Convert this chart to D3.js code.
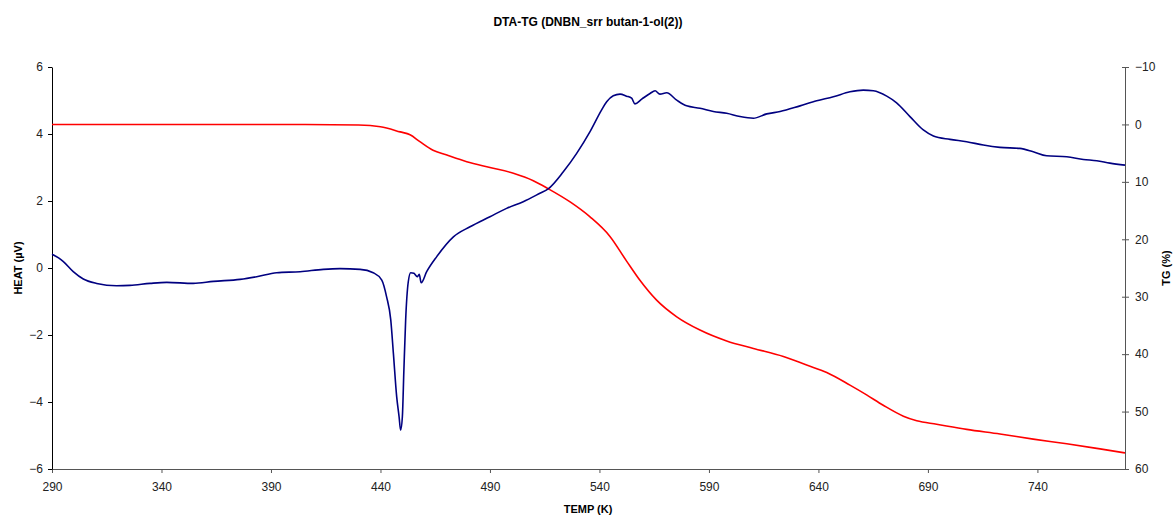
<!DOCTYPE html>
<html>
<head>
<meta charset="utf-8">
<script src="https://cdn.jsdelivr.net/npm/d3@7"></script>
<style>
  body { margin: 0; background: #fff; }
  text { font-family: Arial, "Liberation Sans", sans-serif; }
</style>
</head>
<body>
<div id="chart"></div>
<script>
// DTA curve (HEAT, µV) against temperature (K)
const heatTemp = [290, 293, 295.2, 299.7, 304.3, 310.4, 319.5, 325.6, 334.8, 342.4, 354.5, 363.7, 375.9, 383.5, 392.6, 403.3, 413.9, 421.5, 430.7, 436.7, 440.6, 442.8, 444.7, 445.9, 447.4, 448.5, 449.2, 450, 450.7, 451.5, 452.7, 453.8, 455.3, 456.8, 457.7, 458.6, 461.1, 465.7, 473.3, 480.9, 490, 497.6, 505.2, 512.8, 516.6, 523.5, 529.6, 535.7, 541, 543.3, 546.3, 549.4, 552.4, 554.7, 556.2, 559.3, 563.1, 565.4, 567.6, 570.7, 575.3, 579.8, 585.9, 592, 598.1, 604.2, 610.3, 616.4, 622.5, 631.6, 639.2, 646.8, 654.4, 660.5, 665.1, 671.2, 675.7, 681.8, 687.9, 692.5, 700.1, 707.7, 715.3, 722.9, 732, 738.1, 744.2, 753.4, 761, 767.1, 773.1, 780];
const heatValues = [0.41, 0.30, 0.19, -0.11, -0.33, -0.46, -0.53, -0.52, -0.46, -0.43, -0.46, -0.40, -0.34, -0.26, -0.14, -0.11, -0.04, -0.02, -0.04, -0.14, -0.36, -0.86, -1.55, -2.55, -3.84, -4.44, -4.84, -4.44, -3.04, -1.55, -0.41, -0.14, -0.16, -0.26, -0.19, -0.44, -0.11, 0.34, 0.93, 1.23, 1.53, 1.78, 1.98, 2.23, 2.36, 2.87, 3.42, 4.07, 4.72, 4.96, 5.14, 5.19, 5.13, 5.07, 4.90, 5.04, 5.21, 5.29, 5.19, 5.23, 5.01, 4.84, 4.77, 4.67, 4.62, 4.52, 4.47, 4.60, 4.67, 4.84, 4.99, 5.11, 5.26, 5.31, 5.29, 5.13, 4.93, 4.52, 4.12, 3.94, 3.84, 3.77, 3.67, 3.60, 3.57, 3.47, 3.35, 3.32, 3.24, 3.20, 3.13, 3.07];

// TG curve (mass loss, %) against temperature (K)
const tgTemp = [290, 350, 400, 430, 440, 449, 453.5, 458, 464, 470, 479.4, 490, 500.7, 509.8, 516.6, 526.6, 535.7, 544.8, 552.4, 558.4, 566.1, 575.3, 585.9, 598.1, 610.3, 624, 634.6, 643.8, 654.4, 662, 669.6, 678.8, 684.9, 694, 707.7, 722.9, 738.1, 753.4, 768.6, 780];
const tgValues = [0, 0, 0, 0.1, 0.4, 1.3, 1.8, 3.0, 4.5, 5.3, 6.5, 7.5, 8.5, 9.8, 11.2, 13.5, 16.1, 19.5, 23.8, 27.1, 30.6, 33.5, 35.8, 37.7, 39.0, 40.4, 41.9, 43.2, 45.4, 47.1, 48.9, 50.8, 51.6, 52.2, 53.1, 53.9, 54.8, 55.6, 56.5, 57.2];

const xTicks = [290, 340, 390, 440, 490, 540, 590, 640, 690, 740];
const heatTicks = [-6, -4, -2, 0, 2, 4, 6];
const tgTicks = [-10, 0, 10, 20, 30, 40, 50, 60];

const width = 1175;
const height = 517;
const margin = { top: 67, right: 50, bottom: 48, left: 52 };

const svg = d3
  .select("#chart")
  .append("svg")
  .attr("width", width)
  .attr("height", height);

const x = d3.scaleLinear().domain([290, 780]).range([margin.left, width - margin.right]);
const yHeat = d3.scaleLinear().domain([-6, 6]).range([height - margin.bottom, margin.top]);
const yTg = d3.scaleLinear().domain([-10, 60]).range([margin.top, height - margin.bottom]);

// axes
const bottom = svg
  .append("g")
  .attr("transform", `translate(0,${height - margin.bottom})`)
  .call(d3.axisBottom(x).tickValues(xTicks).tickSizeInner(4).tickSizeOuter(0).tickPadding(9));
bottom.selectAll("path, line").attr("stroke", "#555");

const left = svg
  .append("g")
  .attr("transform", `translate(${margin.left},0)`)
  .call(d3.axisLeft(yHeat).tickValues(heatTicks).tickSizeInner(4).tickSizeOuter(0).tickPadding(5));
left.selectAll("path, line").attr("stroke", "#000");

const right = svg
  .append("g")
  .attr("transform", `translate(${width - margin.right},0)`)
  .call(d3.axisRight(yTg).tickValues(tgTicks).tickSizeInner(4).tickSizeOuter(0).tickPadding(6));
right.selectAll("path, line").attr("stroke", "#555");
right.selectAll(".tick line").attr("x1", -3);

svg.selectAll(".tick text").attr("font-size", 12).attr("fill", "#222")
  .style("font-family", "Arial, 'Liberation Sans', sans-serif");

// curves
const heatLine = d3.line().x((d, i) => x(heatTemp[i])).y((d) => yHeat(d)).curve(d3.curveMonotoneX);
const tgLine = d3.line().x((d, i) => x(tgTemp[i])).y((d) => yTg(d)).curve(d3.curveMonotoneX);

svg.append("path")
  .datum(tgValues)
  .attr("fill", "none")
  .attr("stroke", "#ff0000")
  .attr("stroke-width", 1.6)
  .attr("d", tgLine);

svg.append("path")
  .datum(heatValues)
  .attr("fill", "none")
  .attr("stroke", "#000080")
  .attr("stroke-width", 1.6)
  .attr("d", heatLine);

// titles
svg.append("text")
  .attr("x", 588)
  .attr("y", 26)
  .attr("text-anchor", "middle")
  .attr("font-size", 12)
  .attr("font-weight", "bold")
  .text("DTA-TG (DNBN_srr butan-1-ol(2))");

svg.append("text")
  .attr("x", 588)
  .attr("y", 513)
  .attr("text-anchor", "middle")
  .attr("font-size", 11)
  .attr("font-weight", "bold")
  .text("TEMP (K)");

svg.append("text")
  .attr("transform", "translate(22,268) rotate(-90)")
  .attr("text-anchor", "middle")
  .attr("font-size", 11)
  .attr("font-weight", "bold")
  .text("HEAT (µV)");

svg.append("text")
  .attr("transform", "translate(1170,268) rotate(-90)")
  .attr("text-anchor", "middle")
  .attr("font-size", 11)
  .attr("font-weight", "bold")
  .text("TG (%)");
</script>
</body>
</html>
